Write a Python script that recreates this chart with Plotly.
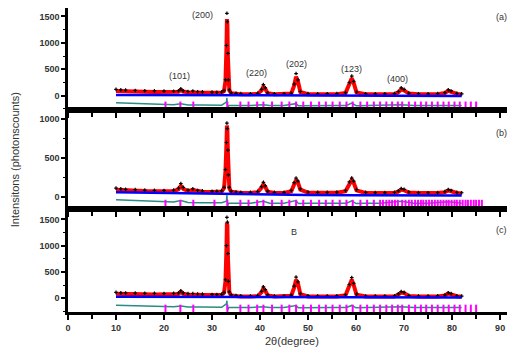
import plotly.graph_objects as go

tt = [10, 11, 12, 14, 16, 18, 20, 22, 23, 23.5, 24, 25, 26, 27, 28, 30, 31, 32, 32.5, 32.8,
      33.0, 33.1, 33.2, 33.3, 33.4, 33.6, 34, 35, 36, 38, 39.5, 40.3, 40.7, 41.1, 41.6,
      43, 45, 46.5, 47.1, 47.5, 47.9, 48.4, 50, 52, 54, 56, 57.8, 58.6, 59.1, 59.5, 60.1,
      62, 64, 66, 68, 68.8, 69.4, 70, 71, 73, 75, 77, 78.5, 79.2, 79.8, 81, 82]

obs_a = [120, 110, 105, 100, 95, 92, 88, 85, 95, 130, 95, 80, 90, 75, 72, 68, 66, 70, 100, 300,
         950, 1560, 1400, 800, 300, 110, 55, 45, 40, 38, 45, 120, 210, 150, 55,
         38, 36, 50, 220, 420, 300, 80, 40, 36, 38, 40, 60, 250, 370, 270, 70,
         38, 35, 36, 40, 80, 150, 120, 50, 38, 36, 40, 60, 110, 90, 45, 35]
calc_a = [90, 85, 82, 78, 75, 72, 70, 68, 75, 110, 78, 65, 70, 60, 58, 55, 55, 60, 90, 280,
          900, 1450, 1350, 750, 280, 100, 45, 35, 30, 28, 35, 100, 170, 130, 45,
          28, 27, 40, 190, 360, 270, 70, 30, 27, 28, 30, 50, 220, 330, 240, 60,
          28, 26, 27, 30, 65, 120, 100, 40, 28, 27, 30, 50, 95, 75, 35, 28]

obs_b = [110, 100, 95, 90, 85, 82, 80, 85, 110, 170, 120, 85, 100, 80, 75, 70, 68, 75, 120, 350,
         700, 950, 880, 600, 280, 120, 70, 60, 55, 55, 65, 130, 185, 140, 70,
         55, 55, 80, 180, 240, 200, 100, 60, 55, 55, 58, 80, 190, 240, 200, 90,
         55, 52, 52, 55, 75, 105, 95, 60, 52, 50, 52, 65, 90, 80, 55, 50]
calc_b = [90, 85, 80, 75, 72, 70, 68, 70, 95, 140, 100, 72, 85, 68, 64, 60, 60, 65, 110, 330,
          680, 920, 860, 580, 260, 110, 62, 52, 48, 48, 58, 115, 160, 125, 62,
          48, 48, 70, 160, 215, 180, 90, 52, 48, 48, 50, 70, 170, 215, 180, 80,
          48, 46, 46, 48, 65, 90, 82, 52, 46, 44, 46, 58, 80, 70, 48, 44]

obs_c = [110, 100, 98, 95, 92, 90, 88, 90, 100, 140, 100, 85, 88, 78, 75, 70, 68, 72, 110, 350,
         1000, 1540, 1450, 850, 320, 120, 60, 48, 42, 40, 48, 130, 215, 160, 60,
         40, 38, 55, 230, 400, 310, 85, 42, 38, 40, 42, 65, 260, 390, 280, 75,
         40, 38, 38, 42, 80, 125, 110, 50, 40, 38, 42, 60, 100, 85, 45, 38]
calc_c = [85, 80, 78, 75, 72, 70, 68, 70, 80, 120, 82, 68, 72, 62, 60, 56, 55, 60, 100, 320,
          950, 1440, 1380, 800, 300, 110, 50, 38, 33, 30, 38, 110, 185, 140, 50,
          30, 29, 45, 200, 350, 280, 75, 32, 29, 30, 32, 55, 230, 350, 250, 65,
          30, 28, 29, 32, 68, 105, 95, 42, 30, 29, 32, 50, 88, 72, 37, 30]

bg_x = [10, 20, 30, 35, 40, 50, 60, 70, 82]
bg_a = [15, 12, 10, 5, 0, -5, -5, -5, -5]
bg_b = [55, 45, 35, 30, 25, 20, 18, 15, 15]
bg_c = [25, 22, 20, 18, 15, 12, 10, 10, 10]

diff_x = [10, 12, 14, 16, 18, 20, 22, 23.5, 25, 28, 30, 32, 33.0, 33.1, 33.2, 33.3, 33.5, 35,
          38, 40.7, 42, 45, 47.5, 48, 50, 55, 58, 59.1, 60, 62, 65, 69.4, 72, 75, 79.2, 82]
diff_a = [-135, -140, -150, -145, -160, -165, -170, -150, -175, -175, -180, -180, -120, -40,
          -230, -200, -185, -185, -185, -170, -185, -185, -150, -190, -185, -185, -185, -140,
          -190, -185, -185, -170, -185, -185, -175, -185]
diff_b = [-40, -45, -55, -60, -65, -70, -70, -50, -75, -80, -80, -80, -60, 20, -120, -100,
          -85, -85, -85, -60, -85, -85, -50, -90, -85, -85, -85, -55, -90, -85, -85, -60,
          -85, -85, -65, -85]
diff_c = [-135, -140, -140, -150, -155, -160, -165, -150, -170, -170, -170, -175, -110, -50,
          -230, -200, -180, -180, -180, -165, -180, -180, -140, -185, -180, -180, -180, -140,
          -185, -180, -180, -165, -180, -180, -170, -180]

bragg_a = [20.3, 23.4, 26.1, 33.2, 35.9, 37.6, 39.4, 40.7, 42.5, 44.5, 46.1, 47.5, 49.0, 50.6,
           52.3, 53.7, 55.1, 56.6, 58.0, 59.3, 60.9, 62.3, 63.7, 65.0, 66.3, 67.5, 68.7, 69.6,
           71.0, 72.3, 73.5, 74.6, 75.8, 77.0, 78.2, 79.3, 80.5, 81.6, 82.8, 83.9, 85.0]
bragg_b = [20.3, 23.4, 26.1, 30.5, 33.2, 35.9, 37.6, 39.4, 40.7, 42.5, 44.5, 46.1, 47.5, 49.0,
           50.6, 52.3, 53.7, 55.1, 56.6, 58.0, 59.3, 60.9, 62.3, 63.7, 65.0, 65.6, 66.3, 66.9,
           67.5, 68.1, 68.7, 69.6, 70.3, 71.0, 71.6, 72.3, 72.9, 73.5, 74.0, 74.6, 75.2, 75.8,
           76.4, 77.0, 77.6, 78.2, 78.8, 79.3, 79.9, 80.5, 81.0, 81.6, 82.2, 82.8, 83.3, 83.9,
           84.5, 85.0, 85.6, 86.2]
bragg_c = bragg_a
bragg_level = [-190, -95, -205]

peak_labels = ["(101)", "(200)", "(220)", "(202)", "(123)", "(400)"]
peak_label_x = [23.3, 28.1, 39.2, 47.5, 59.0, 68.7]
peak_label_y = [377, 1530, 430, 600, 510, 320]

panel_labels = ["(a)", "(b)", "(c)"]
panel_label_y = [1490, 818, 1302]
y_ranges = [[-270, 1660], [-160, 1120], [-265, 1700]]
y_ticks = [[0, 500, 1000, 1500], [0, 500, 1000], [0, 500, 1000, 1500]]
x_ticks = [0, 10, 20, 30, 40, 50, 60, 70, 80, 90]

RED = "#ff0000"
BLUE = "#0000ff"
TEAL = "#2a8c84"
MAG = "#ff00ff"
FONT = "Liberation Sans, Arial, sans-serif"

fig = go.Figure()
panels = [
    (obs_a, calc_a, bg_a, diff_a, bragg_a),
    (obs_b, calc_b, bg_b, diff_b, bragg_b),
    (obs_c, calc_c, bg_c, diff_c, bragg_c),
]
for i, (obs, calc, bg, diff, bragg) in enumerate(panels):
    xa = "x" if i == 0 else f"x{i+1}"
    ya = "y" if i == 0 else f"y{i+1}"
    fig.add_trace(go.Scatter(x=tt, y=calc, mode="lines", line=dict(color=RED, width=4),
                             xaxis=xa, yaxis=ya, showlegend=False))
    fig.add_trace(go.Scatter(x=tt, y=obs, mode="markers",
                             marker=dict(symbol="cross", size=3, color="black"),
                             xaxis=xa, yaxis=ya, showlegend=False))
    fig.add_trace(go.Scatter(x=bg_x, y=bg, mode="lines", line=dict(color=BLUE, width=2.5),
                             xaxis=xa, yaxis=ya, showlegend=False))
    fig.add_trace(go.Scatter(x=diff_x, y=diff, mode="lines", line=dict(color=TEAL, width=1.5),
                             xaxis=xa, yaxis=ya, showlegend=False))
    fig.add_trace(go.Scatter(x=bragg, y=[bragg_level[i]] * len(bragg), mode="markers",
                             marker=dict(symbol="line-ns", size=6,
                                         line=dict(color=MAG, width=2)),
                             xaxis=xa, yaxis=ya, showlegend=False))

domains = [[0.6645, 1.0], [0.3388, 0.6645], [0.0, 0.3388]]
tickfont = dict(family=FONT, size=9, color="#333333", weight="bold")
for i in range(3):
    xkey = "xaxis" if i == 0 else f"xaxis{i+1}"
    ykey = "yaxis" if i == 0 else f"yaxis{i+1}"
    fig.layout[xkey] = dict(
        domain=[0, 1], anchor="y" if i == 0 else f"y{i+1}", automargin=False,
        range=[0, 93.1], tickvals=x_ticks, showticklabels=(i == 2),
        ticks="outside", ticklen=5, tickwidth=2, tickcolor="black",
        minor=dict(dtick=5, tick0=0, ticks="outside", ticklen=4, tickwidth=2, tickcolor="black"),
        showline=True, linewidth=2.5, linecolor="black", mirror=True,
        showgrid=False, zeroline=False, tickfont=tickfont,
    )
    fig.layout[ykey] = dict(
        domain=domains[i], anchor="x" if i == 0 else f"x{i+1}", automargin=False,
        range=y_ranges[i], tickvals=y_ticks[i],
        ticks="outside", ticklen=4, tickwidth=1.5, tickcolor="black",
        minor=dict(dtick=250, ticks="outside", ticklen=2, tickwidth=1, tickcolor="black"),
        showline=True, linewidth=2.5, linecolor="black", mirror=True,
        showgrid=False, zeroline=False, tickfont=tickfont,
    )

annotations = []
for t, x, y in zip(peak_labels, peak_label_x, peak_label_y):
    annotations.append(dict(text=t, x=x, y=y, xref="x", yref="y", showarrow=False,
                            xanchor="center", yanchor="middle",
                            font=dict(family=FONT, size=9, color="#333333")))
for i, (t, y) in enumerate(zip(panel_labels, panel_label_y)):
    annotations.append(dict(text=t, x=90.3, y=y, xref="x" if i == 0 else f"x{i+1}",
                            yref="y" if i == 0 else f"y{i+1}", showarrow=False,
                            xanchor="center", yanchor="middle",
                            font=dict(family=FONT, size=9, color="#333333")))
annotations.append(dict(text="B", x=47.0, y=1264, xref="x3", yref="y3", showarrow=False,
                        xanchor="center", yanchor="middle",
                        font=dict(family=FONT, size=9, color="#333333")))
annotations.append(dict(text="Intensitons (photonscounts)", x=-0.118, y=0.5, xref="paper",
                        yref="paper", textangle=-90, showarrow=False,
                        xanchor="center", yanchor="middle",
                        font=dict(family=FONT, size=11, color="#333333")))
annotations.append(dict(text="2θ(degree)", x=0.5, y=-0.097, xref="paper", yref="paper",
                        showarrow=False, xanchor="center", yanchor="middle",
                        font=dict(family=FONT, size=11, color="#333333")))

fig.update_layout(
    width=507, height=345,
    margin=dict(l=60, r=0, t=0, b=41, autoexpand=False),
    paper_bgcolor="white", plot_bgcolor="white",
    annotations=annotations,
    showlegend=False,
)

fig.write_html("out.html")
